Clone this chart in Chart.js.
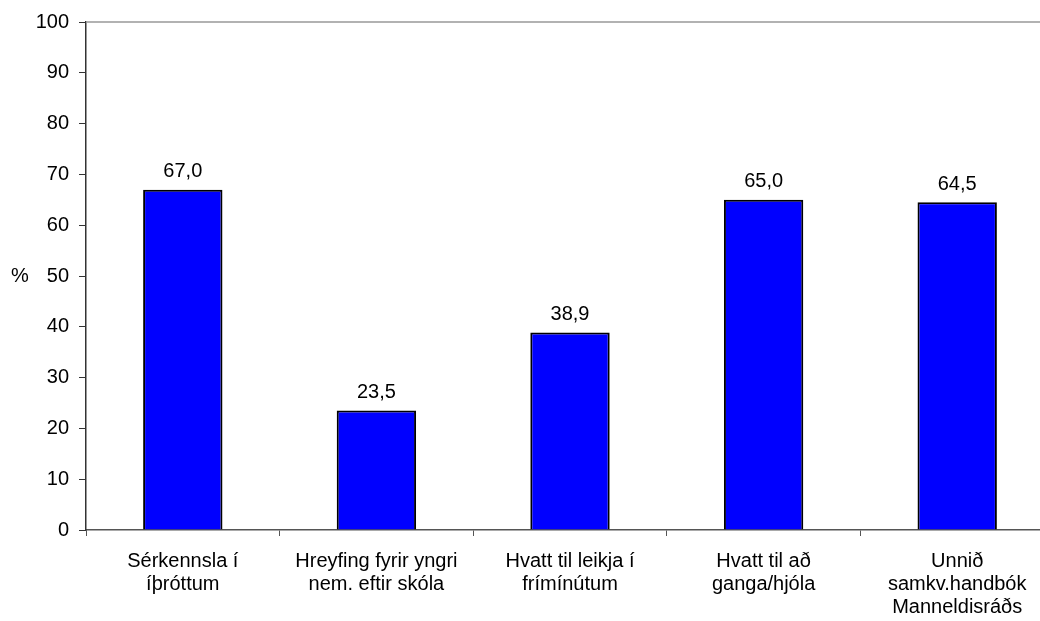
<!DOCTYPE html>
<html>
<head>
<meta charset="utf-8">
<script src="https://cdn.jsdelivr.net/npm/chart.js@4.4.0/dist/chart.umd.min.js"></script>
<style>
  html, body { margin: 0; padding: 0; background: #fff; overflow: hidden; }
  #wrap { width: 1060px; height: 621px; position: relative; }
</style>
</head>
<body>
<div id="wrap"><canvas id="myChart"></canvas></div>
<script>
// data
const categories = [
  ['Sérkennsla í', 'íþróttum'],
  ['Hreyfing fyrir yngri', 'nem. eftir skóla'],
  ['Hvatt til leikja í', 'frímínútum'],
  ['Hvatt til að', 'ganga/hjóla'],
  ['Unnið', 'samkv.handbók', 'Manneldisráðs']
];
const values = [67.0, 23.5, 38.9, 65.0, 64.5];
const yTicks = [0, 10, 20, 30, 40, 50, 60, 70, 80, 90, 100];
const yLabel = '%';

const FONT = '"Liberation Sans", Arial, sans-serif';

// value labels, top border and the "%" label
const extras = {
  id: 'extras',
  afterDatasetsDraw(chart) {
    const ctx = chart.ctx;
    const area = chart.chartArea;
    ctx.save();
    ctx.strokeStyle = '#999';
    ctx.lineWidth = 1.5;
    ctx.beginPath();
    ctx.moveTo(area.left, area.top);
    ctx.lineTo(area.right, area.top);
    ctx.stroke();

    ctx.fillStyle = '#000';
    ctx.font = '20px ' + FONT;
    ctx.textAlign = 'center';
    ctx.textBaseline = 'middle';
    chart.getDatasetMeta(0).data.forEach((bar, i) => {
      ctx.fillText(values[i].toFixed(1).replace('.', ','), bar.x, bar.y - 18);
    });
    ctx.fillText(yLabel, 20, (area.top + area.bottom) / 2);
    ctx.restore();
  }
};

new Chart(document.getElementById('myChart').getContext('2d'), {
  type: 'bar',
  data: {
    labels: categories,
    datasets: [{
      data: values,
      backgroundColor: '#0000FF',
      borderColor: '#000',
      borderWidth: 2,
      categoryPercentage: 1,
      barPercentage: 0.41
    }]
  },
  options: {
    responsive: true,
    maintainAspectRatio: false,
    animation: false,
    layout: { padding: { top: 14, right: 6, left: 0, bottom: 0 } },
    plugins: {
      legend: { display: false },
      tooltip: { enabled: false }
    },
    scales: {
      x: {
        offset: true,
        grid: {
          offset: true,
          drawOnChartArea: false,
          drawTicks: true,
          tickLength: 6,
          color: '#555'
        },
        border: { color: '#555', width: 1.5 },
        ticks: {
          color: '#000',
          font: { family: FONT, size: 20, lineHeight: 1.15 },
          padding: 14,
          maxRotation: 0,
          autoSkip: false
        },
        afterFit(scale) { scale.height = 91; }
      },
      y: {
        min: 0,
        max: 100,
        afterBuildTicks(scale) { scale.ticks = yTicks.map(v => ({ value: v })); },
        grid: {
          drawOnChartArea: false,
          drawTicks: true,
          tickLength: 7,
          color: '#333'
        },
        border: { color: '#333', width: 1.5 },
        ticks: {
          color: '#000',
          font: { family: FONT, size: 20 },
          padding: 10
        },
        afterFit(scale) { scale.width = 86; }
      }
    }
  },
  plugins: [extras]
});
</script>
</body>
</html>
